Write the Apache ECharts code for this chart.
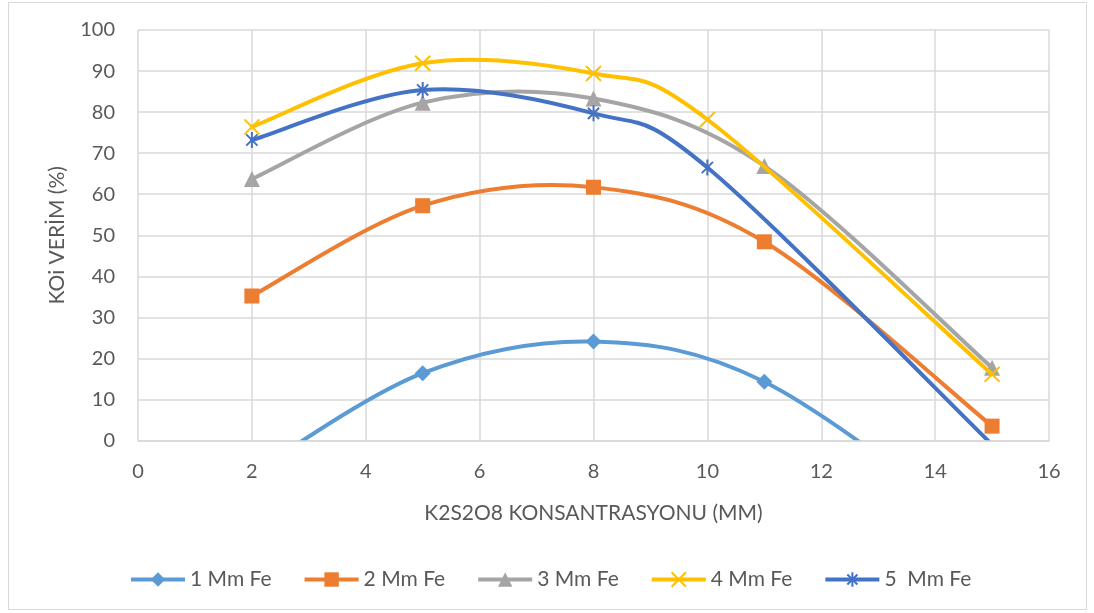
<!DOCTYPE html>
<html>
<head>
<meta charset="utf-8">
<script src="https://cdn.jsdelivr.net/npm/echarts@6/dist/echarts.min.js"></script>
<style>
html,body{margin:0;padding:0;background:#fff;}
#chart{width:1094px;height:613px;}
</style>
</head>
<body>
<div id="chart"></div>
<script>
// K2S2O8 concentration (mM)
var xA = [2, 5, 8, 11, 15];
var xB = [2, 5, 8, 10, 15];
var fe1 = [-8, 16.4, 24.1, 14.3, -24];
var fe2 = [35.2, 57.2, 61.7, 48.4, 3.5];
var fe3 = [63.7, 82.3, 83.3, 66.9, 17.7];
var fe4 = [76.4, 91.9, 89.4, 78.2, 16.1];
var fe5 = [73.2, 85.4, 79.7, 66.5, -1];
var seriesNames = ['1 Mm Fe', '2 Mm Fe', '3 Mm Fe', '4 Mm Fe', '5  Mm Fe'];
var colors = ['#5B9BD5', '#ED7D31', '#A5A5A5', '#FFC000', '#4472C4'];
var xTitle = 'K2S2O8 KONSANTRASYONU (MM)';
var yTitle = 'KOi VERİM (%)';

function pairs(xs, ys) {
  return xs.map(function (x, i) { return [x, ys[i]]; });
}

var FONT = 'Lato';
var crossPath = 'path://M0,0L10,10M0,10L10,0';
var starPath = 'path://M1.5,1.5L8.5,8.5M1.5,8.5L8.5,1.5M5,0L5,10M0,5L0,5M10,5L10,5';

// Smoothed connecting curve (Catmull-Rom style Bezier in pixel space, as in spreadsheet charts)
function curveSeries(idx, xs, ys) {
  var data = pairs(xs, ys);
  return {
    type: 'custom',
    coordinateSystem: 'cartesian2d',
    clip: true,
    silent: true,
    data: data,
    encode: { x: 0, y: 1 },
    z: 2 + idx * 2,
    renderItem: function (params, api) {
      if (params.dataIndex !== 0) return null;
      var p = data.map(function (d) { return api.coord(d); });
      var n = p.length;
      var d = 'M' + p[0][0] + ' ' + p[0][1];
      for (var i = 0; i < n - 1; i++) {
        var p0 = p[Math.max(i - 1, 0)], p1 = p[i], p2 = p[i + 1], p3 = p[Math.min(i + 2, n - 1)];
        var c1x = p1[0] + (p2[0] - p0[0]) / 6, c1y = p1[1] + (p2[1] - p0[1]) / 6;
        var c2x = p2[0] - (p3[0] - p1[0]) / 6, c2y = p2[1] - (p3[1] - p1[1]) / 6;
        d += ' C' + c1x + ' ' + c1y + ' ' + c2x + ' ' + c2y + ' ' + p2[0] + ' ' + p2[1];
      }
      var cs = params.coordSys;
      return {
        type: 'group',
        clipPath: { type: 'rect', shape: { x: cs.x, y: cs.y, width: cs.width, height: cs.height } },
        children: [{
          type: 'path',
          shape: { pathData: d },
          style: { fill: null, stroke: colors[idx], lineWidth: 4, lineJoin: 'round', lineCap: 'round' }
        }]
      };
    }
  };
}

function markerSeries(idx, xs, ys, symbol, size, stroked) {
  return {
    name: seriesNames[idx],
    type: 'line',
    data: pairs(xs, ys),
    symbol: symbol,
    symbolSize: size,
    showAllSymbol: true,
    clip: true,
    lineStyle: { color: colors[idx], width: 4, opacity: 0 },
    itemStyle: stroked
      ? { color: 'rgba(0,0,0,0)', borderColor: colors[idx], borderWidth: 2 }
      : { color: colors[idx], borderWidth: 0 },
    emphasis: { disabled: true },
    z: 3 + idx * 2
  };
}

var chart = echarts.init(document.getElementById('chart'), null, { renderer: 'canvas' });
chart.setOption({
  animation: false,
  backgroundColor: '#ffffff',
  textStyle: { fontFamily: FONT },
  graphic: [{
    type: 'rect',
    shape: { x: 8.5, y: 2.5, width: 1078, height: 607 },
    style: { fill: 'none', stroke: '#D9D9D9', lineWidth: 1 },
    silent: true
  }],
  grid: { left: 138, right: 45, top: 30, bottom: 172.5, containLabel: false },
  legend: {
    top: 569,
    left: 129,
    padding: 0,
    itemWidth: 54,
    itemHeight: 18,
    itemGap: 31,
    lineStyle: { width: 4, opacity: 1 },
    textStyle: { fontFamily: FONT, fontSize: 21, color: '#595959' },
    data: seriesNames
  },
  xAxis: {
    type: 'value',
    min: 0, max: 16, interval: 2,
    name: xTitle,
    nameLocation: 'middle',
    nameGap: 62,
    nameTextStyle: { fontFamily: FONT, fontSize: 21, color: '#595959' },
    axisLine: { show: true, lineStyle: { color: '#D9D9D9', width: 1.5 } },
    axisTick: { show: false },
    axisLabel: { fontFamily: FONT, fontSize: 20, color: '#595959', margin: 21 },
    splitLine: { show: true, lineStyle: { color: '#D9D9D9', width: 1.5 } }
  },
  yAxis: {
    type: 'value',
    min: 0, max: 100, interval: 10,
    name: yTitle,
    nameLocation: 'middle',
    nameRotate: 90,
    nameGap: 70,
    nameTextStyle: { fontFamily: FONT, fontSize: 21, color: '#595959' },
    axisLine: { show: false },
    axisTick: { show: false },
    axisLabel: { fontFamily: FONT, fontSize: 20, color: '#595959', margin: 23 },
    splitLine: { show: true, lineStyle: { color: '#D9D9D9', width: 1.5 } }
  },
  series: [
    curveSeries(0, xA, fe1), markerSeries(0, xA, fe1, 'diamond', 16, false),
    curveSeries(1, xA, fe2), markerSeries(1, xA, fe2, 'rect', 15, false),
    curveSeries(2, xA, fe3), markerSeries(2, xA, fe3, 'triangle', 16, false),
    curveSeries(3, xB, fe4), markerSeries(3, xB, fe4, crossPath, 15, true),
    curveSeries(4, xB, fe5), markerSeries(4, xB, fe5, starPath, 16, true)
  ]
});
</script>
</body>
</html>
